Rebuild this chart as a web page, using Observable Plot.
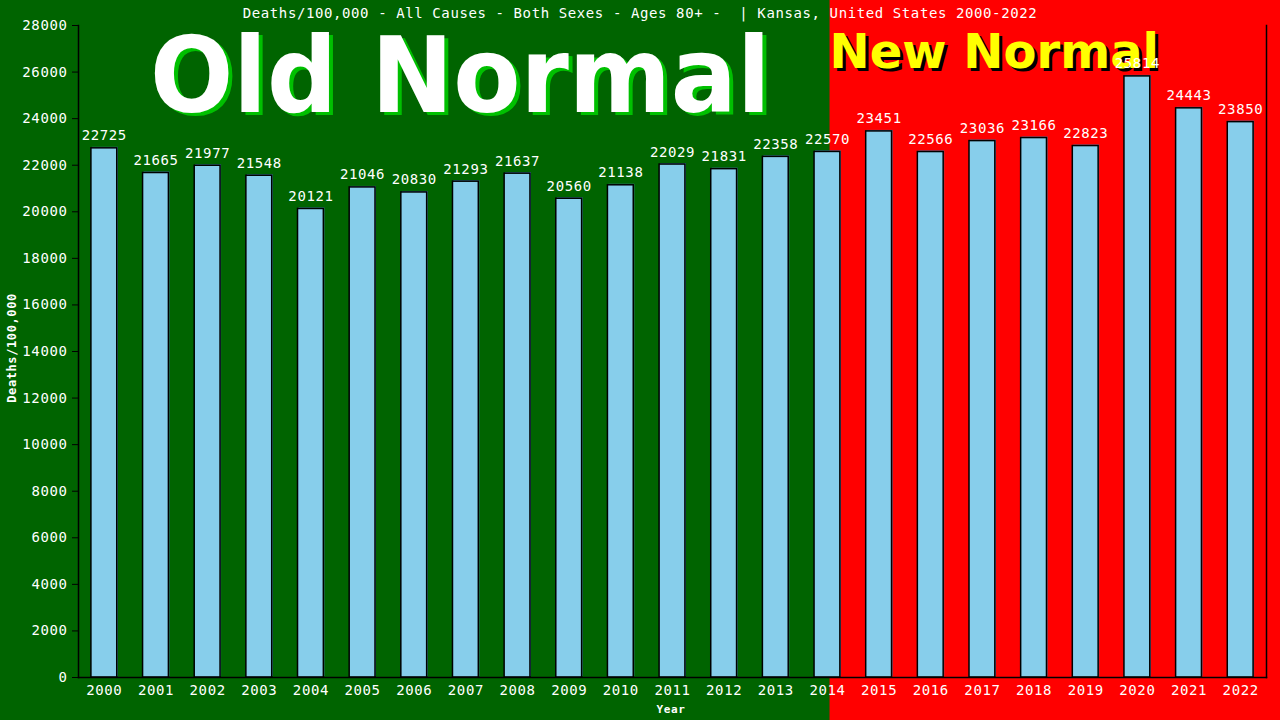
<!DOCTYPE html>
<html>
<head>
<meta charset="utf-8">
<script src="https://cdn.jsdelivr.net/npm/d3@7"></script>
<script src="https://cdn.jsdelivr.net/npm/@observablehq/plot@0.6"></script>
<style>
  html, body { margin: 0; padding: 0; background: #006400; }
</style>
</head>
<body>
<div id="chart"></div>
<script>
const years = [2000, 2001, 2002, 2003, 2004, 2005, 2006, 2007, 2008, 2009, 2010, 2011,
               2012, 2013, 2014, 2015, 2016, 2017, 2018, 2019, 2020, 2021, 2022];
const deaths = [22725, 21665, 21977, 21548, 20121, 21046, 20830, 21293, 21637, 20560, 21138, 22029,
                21831, 22358, 22570, 23451, 22566, 23036, 23166, 22823, 25814, 24443, 23850];
const yTicks = [0, 2000, 4000, 6000, 8000, 10000, 12000, 14000, 16000, 18000, 20000, 22000, 24000, 26000, 28000];
const titleText = "Deaths/100,000 - All Causes - Both Sexes - Ages 80+ -  | Kansas, United States 2000-2022";
const yLabel = "Deaths/100,000";
const xLabel = "Year";
const splitYear = 2014;

const data = years.map((year, i) => ({year, value: deaths[i]}));
const mono = "'DejaVu Sans Mono', monospace";

const plot = Plot.plot({
  width: 1280,
  height: 720,
  marginLeft: 78,
  marginRight: 14,
  marginTop: 25,
  marginBottom: 43,
  style: {background: "#006400", color: "white", fontFamily: mono, fontSize: "14px", letterSpacing: "0.6px"},
  x: {type: "band", domain: years, paddingInner: 0.5, paddingOuter: 0.25, round: false},
  y: {domain: [0, 28000]},
  marks: [
    Plot.barY(data, {x: "year", y: "value", fill: "#4682b4", dx: 1, dy: -1}),
    Plot.barY(data, {x: "year", y: "value", fill: "#87ceeb", stroke: "black", strokeWidth: 1.5}),
    Plot.text(data, {x: "year", y: "value", text: d => String(d.value), dy: -8, lineAnchor: "bottom", fill: "white", fontSize: 14}),
    Plot.axisY({ticks: yTicks, tickSize: 6, tickPadding: 5, stroke: "black", fill: "white", tickFormat: "d", label: null, fontSize: 14}),
    Plot.axisX({tickSize: 0, tickPadding: 8, fill: "white", tickFormat: d => String(d), label: null, fontSize: 14}),
    Plot.frame({anchor: "left", stroke: "black", strokeWidth: 1.5}),
    Plot.frame({anchor: "bottom", stroke: "black", strokeWidth: 1.5}),
    Plot.frame({anchor: "right", stroke: "black", strokeWidth: 1.5})
  ]
});

const svg = d3.select(plot);
const xs = plot.scale("x");
const redStart = xs.apply(splitYear) + xs.bandwidth * 0.6;

// Backdrop layers inserted behind the marks
const back = svg.insert("g", ":first-child");
back.append("rect").attr("x", redStart).attr("y", 0).attr("width", 1280 - redStart).attr("height", 720).attr("fill", "#ff0000");

const bold = "'DejaVu Sans', sans-serif";
function bigText(x, y, size, sy, fill, label) {
  back.append("text").attr("transform", `translate(${x},${y}) scale(1,${sy})`).attr("text-anchor", "start")
    .attr("font-family", bold).attr("font-weight", "bold").attr("font-size", size)
    .attr("letter-spacing", "0").attr("fill", fill).text(label);
}
bigText(154, 115, 98, 1.07, "#00c000", "Old Normal");
bigText(150, 112, 98, 1.07, "white", "Old Normal");
bigText(redStart + 3, 71, 48, 1, "black", "New Normal");
bigText(redStart, 68, 48, 1, "#ffff00", "New Normal");

// Title and axis labels
svg.append("text").attr("x", 640).attr("y", 18).attr("text-anchor", "middle")
  .attr("fill", "white").attr("font-size", 14).text(titleText);
svg.append("text").attr("transform", "translate(16,348) rotate(-90)").attr("text-anchor", "middle")
  .attr("fill", "white").attr("font-size", 12).attr("font-weight", "bold").text(yLabel);
svg.append("text").attr("x", 671).attr("y", 713).attr("text-anchor", "middle")
  .attr("fill", "white").attr("font-size", 11).attr("font-weight", "bold").text(xLabel);

document.getElementById("chart").appendChild(plot);
</script>
</body>
</html>
